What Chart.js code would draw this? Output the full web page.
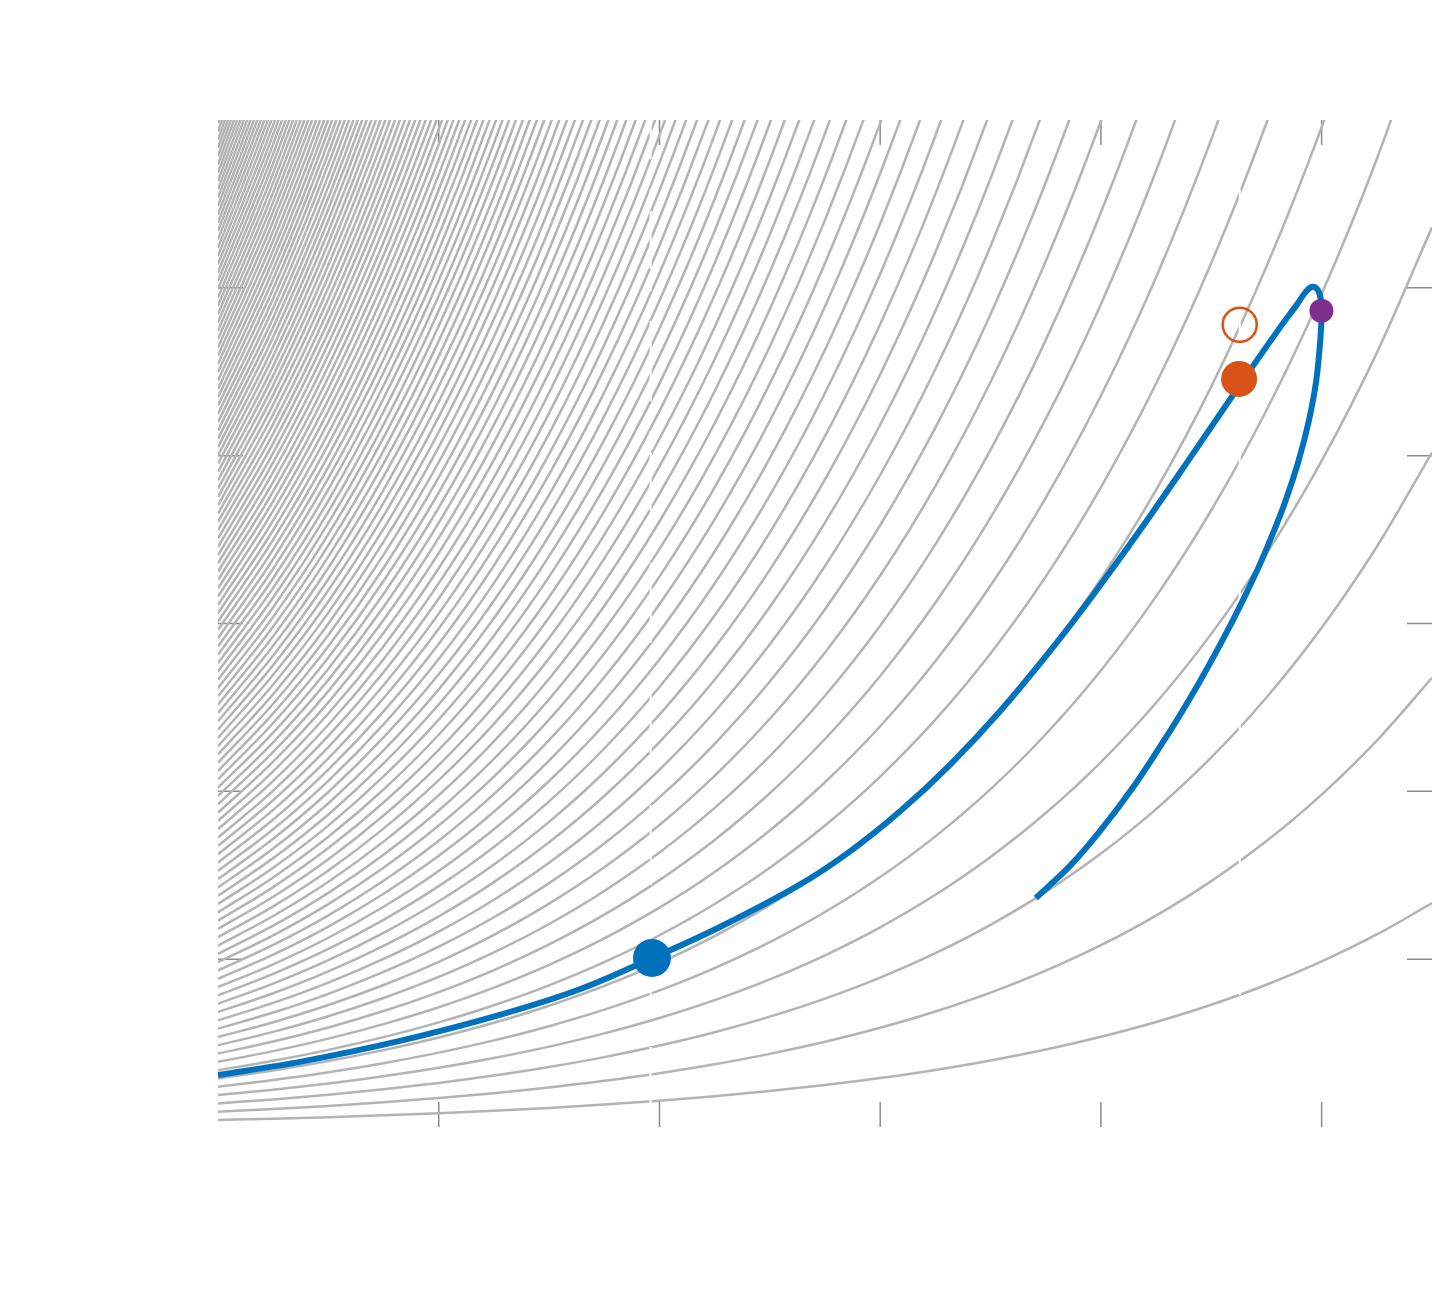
<!DOCTYPE html>
<html>
<head>
<meta charset="utf-8">
<script src="https://cdn.jsdelivr.net/npm/chart.js@4.4.1/dist/chart.umd.min.js"></script>
<style>
  html, body { margin: 0; padding: 0; background: #fff; }
  canvas { display: block; }
</style>
</head>
<body>
<canvas id="myChart" width="1434" height="1297" style="width:1434px;height:1297px"></canvas>
<script>
// background family: each grey curve = level * growth(x) - offset
const growthX = [0, 0.25, 0.5, 0.75, 1, 1.25, 1.5, 1.75, 2, 2.25, 2.5, 2.75,
                 3, 3.25, 3.5, 3.75, 4, 4.25, 4.5, 4.75, 5, 5.25, 5.5];
const growthY = [0.990, 1.150, 1.336, 1.553, 1.804, 2.096, 2.435, 2.829, 3.287, 3.819, 4.437, 5.155,
                 5.989, 6.958, 8.085, 9.393, 10.913, 12.679, 14.731, 17.115, 19.885, 23.103, 26.842];
const curveOffset = 0.16;
const curveLevels = [
  1, 2, 3, 4, 5, 6, 7, 8, 9, 10, 11, 12, 13, 14, 15, 16, 17, 18, 19, 20,
  21, 22, 23, 24, 25, 26, 27, 28, 29, 30, 31, 32, 33, 34, 35, 36, 37, 38, 39, 40,
  41, 42, 43, 44, 45, 46, 47, 48, 49, 50, 51, 52, 53, 54, 55, 56, 57, 58, 59, 60,
  61, 62, 63, 64, 65, 66, 67, 68, 69, 70, 71, 72, 73, 74, 75, 76, 77, 78, 79, 80,
  81, 82, 83, 84, 85, 86, 87, 88, 89, 90, 91, 92, 93, 94, 95, 96, 97, 98, 99, 100,
  101, 102, 103, 104, 105, 106, 107, 108, 109, 110, 111, 112, 113, 114, 115, 116, 117, 118, 119, 120, 121
];

// blue trajectory (goes up, loops at the top and comes back down)
const pathX = [0, 0.371, 0.824, 1.277, 1.639, 1.966, 2.274, 2.636, 2.862, 3.089, 3.315, 3.542,
               3.768, 3.963, 4.176, 4.402, 4.629, 4.810, 4.887, 4.928, 4.959, 4.982, 4.995, 5.000,
               4.995, 4.976, 4.943, 4.894, 4.833, 4.771, 4.711, 4.644, 4.599, 4.520, 4.444,
               4.372, 4.296, 4.153, 4.000, 3.860, 3.705];
const pathY = [6.20, 7.76, 10.26, 13.36, 16.41, 20.11, 23.84, 28.89, 32.82, 37.59, 43.13, 49.51,
               56.67, 63.34, 71.07, 79.65, 88.41, 95.23, 97.97, 99.52, 100.12, 99.76, 98.81, 97.26,
               94.16, 89.03, 84.27, 79.26, 74.37, 70.20, 66.51, 62.81, 60.43, 56.50, 52.92,
               49.70, 46.48, 40.76, 35.40, 31.11, 27.29];

// markers
const startPt = { x: 1.966, y: 20.14 };
const orangePt = { x: 4.626, y: 89.15 };
const openPt = { x: 4.629, y: 95.6 };
const purplePt = { x: 4.999, y: 97.26 };
const markerLinesX = [1.96, 4.629];

const xTicks = [1, 2, 3, 4, 5];
const yTicks = [20, 40, 60, 80, 100];

const datasets = [];

datasets.push({ data: [startPt], showLine: false, pointRadius: 19, pointBorderWidth: 0,
  backgroundColor: '#0072BD', borderColor: '#0072BD', order: 1 });
datasets.push({ data: [orangePt], showLine: false, pointRadius: 18, pointBorderWidth: 0,
  backgroundColor: '#D95319', borderColor: '#D95319', order: 1 });
datasets.push({ data: [openPt], showLine: false, pointRadius: 17, pointBorderWidth: 2.5,
  backgroundColor: 'rgba(0,0,0,0)', borderColor: '#D95319', order: 1 });
datasets.push({ data: [purplePt], showLine: false, pointRadius: 12, pointBorderWidth: 0,
  backgroundColor: '#7E2F8E', borderColor: '#7E2F8E', order: 1 });

datasets.push({
  data: pathX.map((x, i) => ({ x: x, y: pathY[i] })),
  showLine: true, borderColor: '#0072BD', borderWidth: 6, pointRadius: 0,
  tension: 0.35, borderCapStyle: 'butt', borderJoinStyle: 'round', order: 2
});

markerLinesX.forEach(x => {
  datasets.push({
    data: [{ x: x, y: 0 }, { x: x, y: 120 }],
    showLine: true, borderColor: '#ffffff', borderWidth: 2, borderDash: [14, 8],
    pointRadius: 0, order: 3
  });
});

curveLevels.forEach(n => {
  datasets.push({
    data: growthX.map((x, i) => ({ x: x, y: n * growthY[i] - curveOffset })),
    showLine: true, borderColor: '#b3b3b3', borderWidth: 2.5, pointRadius: 0,
    cubicInterpolationMode: 'monotone', order: 4
  });
});

const tickMarks = {
  id: 'tickMarks',
  beforeDatasetsDraw(chart) {
    const { ctx, chartArea: a, scales: { x, y } } = chart;
    ctx.save();
    ctx.strokeStyle = '#8c8c8c';
    ctx.lineWidth = 1.5;
    ctx.beginPath();
    xTicks.forEach(v => {
      const px = x.getPixelForValue(v);
      ctx.moveTo(px, a.bottom); ctx.lineTo(px, a.bottom - 25);
      ctx.moveTo(px, a.top); ctx.lineTo(px, a.top + 25);
    });
    yTicks.forEach(v => {
      const py = y.getPixelForValue(v);
      ctx.moveTo(a.left, py); ctx.lineTo(a.left + 25, py);
      ctx.moveTo(a.right, py); ctx.lineTo(a.right - 25, py);
    });
    ctx.stroke();
    ctx.restore();
  }
};

const ctx = document.getElementById('myChart').getContext('2d');
const myChart = new Chart(ctx, {
  type: 'scatter',
  data: { datasets: datasets },
  options: {
    responsive: false,
    animation: false,
    layout: { autoPadding: false, padding: { left: 218, top: 120, right: 2, bottom: 170 } },
    plugins: { legend: { display: false }, tooltip: { enabled: false } },
    scales: {
      x: { type: 'linear', min: 0, max: 5.5, display: false },
      y: { type: 'linear', min: 0, max: 120, display: false }
    }
  },
  plugins: [tickMarks]
});
</script>
</body>
</html>
